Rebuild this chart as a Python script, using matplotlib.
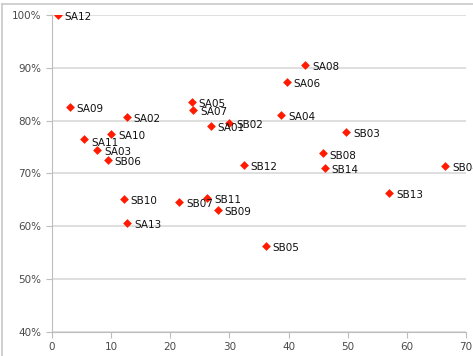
import matplotlib.pyplot as plt
from matplotlib.ticker import PercentFormatter
from matplotlib.lines import Line2D

# 데이터
names = ['SA12', 'SA09', 'SA02', 'SA11', 'SA10', 'SA03', 'SB06', 'SA05', 'SA07',
         'SA01', 'SB02', 'SA08', 'SA06', 'SA04', 'SB03', 'SB08', 'SB12', 'SB14',
         'SB04', 'SB10', 'SB07', 'SB11', 'SB09', 'SA13', 'SB13', 'SB05']
x_vals = [1.0, 3.0, 12.6, 5.4, 10.0, 7.6, 9.4, 23.6, 23.9,
          26.8, 30.0, 42.8, 39.7, 38.8, 49.7, 45.8, 32.4, 46.1,
          66.5, 12.1, 21.5, 26.2, 28.0, 12.7, 57.0, 36.1]
y_vals = [100.0, 82.6, 80.7, 76.6, 77.4, 74.4, 72.5, 83.6, 82.0,
          79.0, 79.5, 90.6, 87.3, 81.1, 77.9, 73.8, 71.6, 71.0,
          71.4, 65.1, 64.7, 65.4, 63.1, 60.6, 66.4, 56.3]
x_ticks = [0, 10, 20, 30, 40, 50, 60, 70]
y_ticks = [40, 50, 60, 70, 80, 90, 100]

fig = plt.figure(figsize=(4.73, 3.56), dpi=100)
ax = fig.add_axes([52 / 473, 1 - 332 / 356, 414 / 473, 317 / 356])

# 바깥 테두리(왼쪽, 위)
fig.add_artist(Line2D([2 / 473, 2 / 473], [0, 1 - 4 / 356], transform=fig.transFigure,
                      color='#c8c8c8', lw=1.2))
fig.add_artist(Line2D([2 / 473, 1], [1 - 4 / 356, 1 - 4 / 356], transform=fig.transFigure,
                      color='#c8c8c8', lw=1.2))

ax.scatter(x_vals, y_vals, marker='D', s=20, color='#ff1a00', zorder=3, linewidths=0)

# 라벨
for n, x, y in zip(names, x_vals, y_vals):
    dx, dy = 5, -1.5
    if n == 'SA11':
        dy = -3
    ax.annotate(n, (x, y), xytext=(dx, dy), textcoords='offset points',
                va='center', ha='left', fontsize=7.5, color='#111111',
                annotation_clip=False)

ax.set_xlim(0, 70)
ax.set_ylim(40, 100)
ax.set_xticks(x_ticks)
ax.set_yticks(y_ticks)
ax.yaxis.set_major_formatter(PercentFormatter(decimals=0))
ax.grid(axis='y', color='#d9d9d9', lw=1.2)
ax.set_axisbelow(True)

for s in ['top', 'right']:
    ax.spines[s].set_visible(False)
for s in ['left', 'bottom']:
    ax.spines[s].set_color('#bdbdbd')
ax.tick_params(colors='#bdbdbd', labelcolor='#4a4a4a', labelsize=7.5, length=4, direction='out')

fig.savefig('out.png', dpi=100)
